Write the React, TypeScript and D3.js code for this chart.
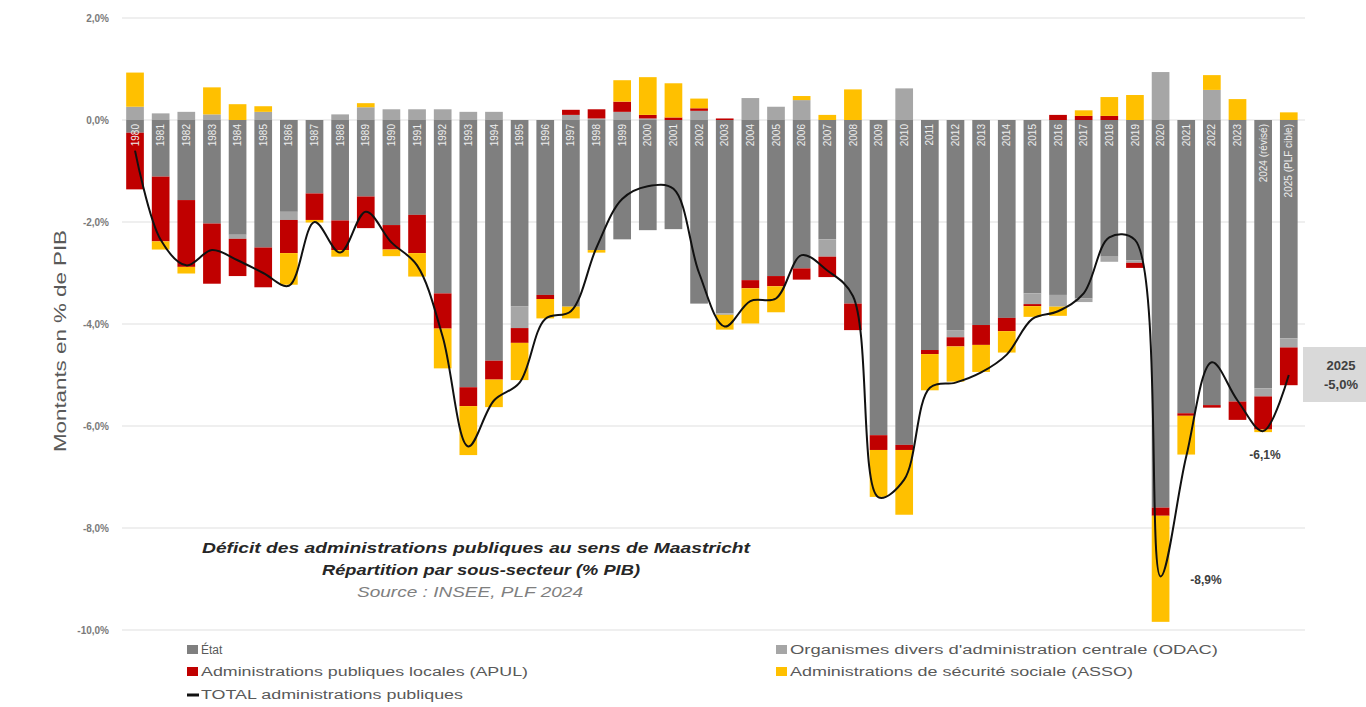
import React from "react";
import * as d3 from "d3";

const years = [
  "1980","1981","1982","1983","1984","1985","1986","1987","1988","1989",
  "1990","1991","1992","1993","1994","1995","1996","1997","1998","1999",
  "2000","2001","2002","2003","2004","2005","2006","2007","2008","2009",
  "2010","2011","2012","2013","2014","2015","2016","2017","2018","2019",
  "2020","2021","2022","2023","2024 (révisé)","2025 (PLF cible)"
];

const etat = [
  -0.25,-1.11,-1.57,-2.03,-2.25,-2.5,-1.8,-1.44,-1.97,-1.5,
  -2.06,-1.86,-3.4,-5.24,-4.72,-3.65,-3.43,-3.66,-2.55,-2.34,
  -2.16,-2.14,-3.6,-3.79,-3.14,-3.06,-2.91,-2.34,-3.6,-6.18,
  -6.37,-4.51,-4.12,-4.02,-3.88,-3.4,-3.43,-3.5,-2.68,-2.75,
  -7.6,-5.75,-5.59,-5.52,-5.26,-4.28
];

const odac = [
  0.26,0.13,0.16,0.11,-0.08,0.16,-0.16,0,0.11,0.25,
  0.21,0.21,0.21,0.16,0.16,-0.43,0,0.1,0.03,0.16,
  0.03,0,0.18,-0.03,0.43,0.26,0.39,-0.34,0,0,
  0.62,0,-0.14,0,0,-0.21,-0.23,-0.07,-0.1,-0.05,
  0.94,0,0.59,0,-0.16,-0.18
];

const apul = [
  -1.11,-1.27,-1.31,-1.18,-0.73,-0.78,-0.65,-0.52,-0.58,-0.62,
  -0.48,-0.75,-0.69,-0.37,-0.37,-0.29,-0.08,0.1,0.18,0.2,
  0.07,0.05,0.05,0.03,-0.16,-0.2,-0.22,-0.4,-0.52,-0.29,
  -0.1,-0.08,-0.18,-0.39,-0.26,-0.04,0.1,0.08,0.08,-0.1,
  -0.16,-0.05,-0.05,-0.36,-0.65,-0.74
];

const asso = [
  0.67,-0.16,-0.13,0.53,0.31,0.11,-0.62,-0.05,-0.13,0.08,
  -0.13,-0.46,-0.78,-0.96,-0.54,-0.73,-0.38,-0.23,-0.05,0.42,
  0.74,0.67,0.19,-0.29,-0.69,-0.51,0.08,0.1,0.6,-0.92,
  -1.27,-0.71,-0.69,-0.53,-0.42,-0.21,-0.18,0.11,0.37,0.49,
  -2.08,-0.76,0.29,0.41,-0.05,0.15
];

const total = [
  -0.6,-2.35,-2.85,-2.55,-2.75,-3.0,-3.25,-2.0,-2.6,-1.8,
  -2.4,-2.85,-4.25,-6.4,-5.5,-5.15,-3.9,-3.75,-2.5,-1.55,
  -1.3,-1.35,-3.0,-4.05,-3.55,-3.5,-2.65,-2.95,-3.45,-7.4,
  -7.05,-5.25,-5.15,-4.95,-4.6,-3.9,-3.75,-3.4,-2.3,-2.35,
  -8.95,-6.6,-4.75,-5.5,-6.1,-5.0
];

const yTicks = [2, 0, -2, -4, -6, -8, -10];
const tickLabels = ["2,0%", "0,0%", "-2,0%", "-4,0%", "-6,0%", "-8,0%", "-10,0%"];

const seriesKeys = ["etat", "odac", "apul", "asso"];
const seriesNames = [
  "État",
  "Organismes divers d'administration centrale  (ODAC)",
  "Administrations publiques locales (APUL)",
  "Administrations de sécurité sociale (ASSO)",
];
const colors: Record<string, string> = {
  etat: "#7f7f7f",
  odac: "#a6a6a6",
  apul: "#c00000",
  asso: "#ffc000",
};

const FONT = "'Liberation Sans', 'DejaVu Sans', sans-serif";

export default function App() {
  const W = 1366, H = 707;
  const x = d3.scaleBand<string>()
    .domain(years)
    .range([122.2, 1301.6])
    .paddingInner(0.31)
    .paddingOuter(0.155);
  const y = d3.scaleLinear().domain([-10, 2]).range([630, 18]);
  const bw = x.bandwidth();

  const data = years.map((yr, i) => ({
    year: yr, etat: etat[i], odac: odac[i], apul: apul[i], asso: asso[i],
  }));
  const stacked = d3.stack<any>()
    .keys(seriesKeys)
    .offset(d3.stackOffsetDiverging)(data);

  const line = d3.line<number>()
    .x((_, i) => (x(years[i]) as number) + bw / 2)
    .y((d) => y(d))
    .curve(d3.curveCatmullRom.alpha(0.5));

  const gx0 = 122, gx1 = 1305;

  return (
    <svg width={W} height={H} style={{ position: "absolute", left: 0, top: 0, background: "#fff" }}
      fontFamily={FONT}>
      {yTicks.map((t, i) => (
        <g key={"g" + i}>
          <line x1={gx0} x2={gx1} y1={y(t)} y2={y(t)} stroke="#e0e0e0" strokeWidth={1.2} />
          <text x={109} y={y(t) + 3.5} textAnchor="end" fontSize={10} fontWeight="bold" fill="#7a7a7a">
            {tickLabels[i]}
          </text>
        </g>
      ))}

      <text transform={`translate(66,341) rotate(-90)`} textAnchor="middle" fontSize={17}
        fill="#595959" textLength={222} lengthAdjust="spacingAndGlyphs">
        Montants en % de PIB
      </text>

      {stacked.map((s) => (
        <g key={s.key} fill={colors[s.key]}>
          {s.map((d, i) => {
            const y0 = y(d[0]), y1 = y(d[1]);
            const top = Math.min(y0, y1), h = Math.abs(y1 - y0);
            if (h < 0.01) return null;
            return <rect key={i} x={x(years[i])} y={top} width={bw} height={h} />;
          })}
        </g>
      ))}

      {years.map((yr) => (
        <text key={"l" + yr}
          transform={`translate(${(x(yr) as number) + bw / 2 + 3.6},124) rotate(-90)`}
          textAnchor="end" fontSize={10} fill="#eeeeee">
          {yr}
        </text>
      ))}

      <path d={line(total) || ""} fill="none" stroke="#111" strokeWidth={2} />

      <text x={1206} y={584} textAnchor="middle" fontSize={12} fontWeight="bold" fill="#404040">-8,9%</text>
      <text x={1265} y={459} textAnchor="middle" fontSize={12} fontWeight="bold" fill="#404040">-6,1%</text>
      <rect x={1303} y={347} width={63} height={55} fill="#d9d9d9" />
      <text x={1341} y={370} textAnchor="middle" fontSize={13} fontWeight="bold" fill="#404040">2025</text>
      <text x={1341} y={389} textAnchor="middle" fontSize={13} fontWeight="bold" fill="#404040">-5,0%</text>

      <text x={476} y={553} textAnchor="middle" fontSize={14} fontWeight="bold" fontStyle="italic"
        fill="#262626" textLength={548} lengthAdjust="spacingAndGlyphs">
        Déficit des administrations publiques au sens de Maastricht
      </text>
      <text x={481} y={575} textAnchor="middle" fontSize={14} fontWeight="bold" fontStyle="italic"
        fill="#262626" textLength={318} lengthAdjust="spacingAndGlyphs">
        Répartition par sous-secteur (% PIB)
      </text>
      <text x={470} y={597} textAnchor="middle" fontSize={14} fontStyle="italic"
        fill="#7f7f7f" textLength={226} lengthAdjust="spacingAndGlyphs">
        Source : INSEE, PLF 2024
      </text>

      {seriesKeys.map((k, i) => {
        const lx = i % 2 === 0 ? 187 : 776;
        const ly = i < 2 ? 650 : 672;
        const widths = [0, 428, 327, 343];
        const extra = widths[i] > 0 ? { textLength: widths[i], lengthAdjust: "spacingAndGlyphs" } : {};
        return (
          <g key={"lg" + k}>
            <rect x={lx} y={ly - 5} width={11} height={9} fill={colors[k]} />
            <text x={lx + 14} y={ly + 4} fontSize={12} fill="#595959" {...extra}>{seriesNames[i]}</text>
          </g>
        );
      })}
      <line x1={187} x2={199} y1={695} y2={695} stroke="#111" strokeWidth={3} />
      <text x={201} y={699} fontSize={12} fill="#595959" textLength={262}
        lengthAdjust="spacingAndGlyphs">TOTAL administrations publiques</text>
    </svg>
  );
}
